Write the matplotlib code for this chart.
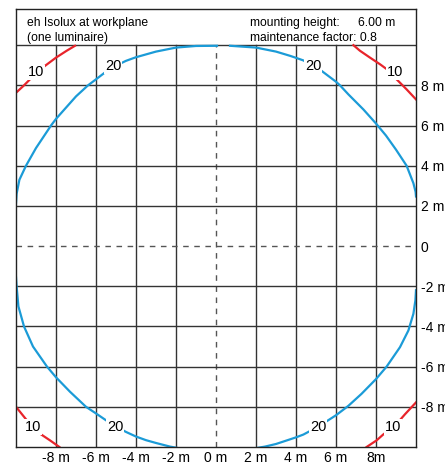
import numpy as np
import matplotlib
matplotlib.use('Agg')
import matplotlib.pyplot as plt

plt.rcParams['font.family'] = ['Liberation Sans', 'DejaVu Sans']

# 20 lux isoline (metres)
upper20_left_x = [-10.0, -9.97, -9.83, -9.5, -9.0, -8.25, -8.0, -7.0, -6.4, -6.0, -5.5, -5.0,
                  -4.5, -4.0, -3.0, -2.0, -1.0, 0.05]
upper20_left_y = [2.13, 2.6, 3.3, 4.0, 4.88, 6.0, 6.33, 7.45, 8.0, 8.3, 8.68, 8.98,
                  9.22, 9.4, 9.68, 9.88, 9.96, 9.97]
upper20_right_x = [0.7, 2.0, 3.0, 3.7, 4.0, 4.37, 5.28, 6.0, 6.2, 6.62, 7.37, 8.0, 8.5, 9.0,
                   9.53, 9.87, 9.98, 10.0]
upper20_right_y = [9.97, 9.88, 9.68, 9.47, 9.37, 9.24, 8.72, 8.18, 8.0, 7.55, 6.8, 6.1, 5.5, 4.8,
                   4.0, 3.13, 2.7, 2.47]
lower20_x = [-10.0, -9.97, -9.88, -9.6, -9.15, -8.45, -8.0, -7.3, -6.5, -6.0, -5.5, -5.0, -4.5,
             -4.0, -3.5, -3.0, -2.3, 0.0, 2.45, 3.0, 3.7, 4.0, 4.37, 5.03, 5.53, 6.0, 6.62, 7.28,
             8.0, 8.53, 9.2, 9.62, 9.87, 9.97, 10.0]
lower20_y = [-1.55, -2.0, -3.0, -4.0, -5.0, -6.0, -6.53, -7.25, -8.0, -8.33, -8.67, -8.98, -9.25,
             -9.48, -9.66, -9.8, -9.98, -10.4, -9.98, -9.85, -9.62, -9.52, -9.38, -9.03, -8.72,
             -8.42, -7.95, -7.35, -6.62, -6.0, -5.03, -4.2, -3.37, -2.7, -2.2]

# 10 lux isolines in the corners
tl10_x = [-10.0, -9.63, -9.3, -8.97, -8.55, -8.0, -7.47, -7.05]
tl10_y = [7.63, 7.97, 8.3, 8.63, 8.97, 9.38, 9.72, 9.97]
tr10_x = [6.87, 7.2, 7.7, 8.2, 8.78, 9.03, 9.53, 10.0]
tr10_y = [10.0, 9.72, 9.38, 9.05, 8.63, 8.3, 7.8, 7.3]
bl10_x = [-10.0, -9.5, -9.17, -8.75, -8.3, -7.83]
bl10_y = [-8.0, -8.62, -9.03, -9.37, -9.67, -10.0]
br10_x = [7.53, 8.03, 8.37, 8.9, 9.45, 10.0]
br10_y = [-10.0, -9.67, -9.37, -9.0, -8.37, -7.78]

# contour labels
label_text = ['10', '20', '20', '10', '10', '20', '20', '10']
label_x = [-9.0, -5.15, 4.85, 8.95, -9.15, -5.05, 5.1, 8.85]
label_y = [8.65, 8.95, 8.95, 8.65, -9.0, -9.0, -9.0, -9.0]

xticks = [-8, -6, -4, -2, 0, 2, 4, 6, 8]
xtick_labels = ['-8 m', '-6 m', '-4 m', '-2 m', '0 m', '2 m', '4 m', '6 m', '8m']
yticks = [8, 6, 4, 2, 0, -2, -4, -6, -8]
ytick_labels = ['8 m', '6 m', '4 m', '2 m', '0', '-2 m', '-4 m', '-6 m', '-8 m']

blue = '#1b9bd7'
red = '#e8242b'
gridc = '#333333'

W, H = 445, 467
fig = plt.figure(figsize=(W / 100, H / 100), dpi=100)
ax = fig.add_axes([16 / W, 20 / H, 400 / W, 438 / H])
ax.set_xlim(-10, 10)
ax.set_ylim(-10, 11.8)

# grid
for v in xticks:
    if v == 0:
        ax.plot([0, 0], [-10, 10], color='#555555', lw=1.0, ls=(0, (4, 4)), zorder=1)
    else:
        ax.plot([v, v], [-10, 10], color=gridc, lw=1.0, zorder=1)
for h in yticks:
    if h == 0:
        ax.plot([-10, 10], [0, 0], color='#555555', lw=1.0, ls=(0, (4, 4)), zorder=1)
    else:
        ax.plot([-10, 10], [h, h], color=gridc, lw=1.0, zorder=1)
ax.plot([-10, 10], [10, 10], color=gridc, lw=1.0, zorder=1)

# isolines
ax.plot(upper20_left_x, upper20_left_y, color=blue, lw=1.6, zorder=2)
ax.plot(upper20_right_x, upper20_right_y, color=blue, lw=1.6, zorder=2)
ax.plot(lower20_x, lower20_y, color=blue, lw=1.6, zorder=2)
for xs, ys in [(tl10_x, tl10_y), (tr10_x, tr10_y), (bl10_x, bl10_y), (br10_x, br10_y)]:
    ax.plot(xs, ys, color=red, lw=1.6, zorder=2)

for t, x, y in zip(label_text, label_x, label_y):
    ax.text(x, y, t, fontsize=10.5, ha='center', va='center', zorder=3,
            bbox=dict(facecolor='white', edgecolor='none', pad=0.5))

# header
ax.text(-9.45, 11.1, 'eh Isolux at workplane', fontsize=8.7, va='center', ha='left')
ax.text(-9.45, 10.38, '(one luminaire)', fontsize=8.7, va='center', ha='left')
ax.text(1.7, 11.1, 'mounting height:', fontsize=8.7, va='center', ha='left')
ax.text(7.1, 11.1, '6.00 m', fontsize=8.7, va='center', ha='left')
ax.text(1.7, 10.38, 'maintenance factor: 0.8', fontsize=8.7, va='center', ha='left')

ax.set_xticks(xticks)
ax.set_xticklabels(xtick_labels, fontsize=10)
ax.yaxis.tick_right()
ax.set_yticks(yticks)
ax.set_yticklabels(ytick_labels, fontsize=10)
ax.tick_params(axis='both', length=0)
ax.tick_params(axis='x', pad=3)
ax.tick_params(axis='y', pad=3.5)
for s in ax.spines.values():
    s.set_color('#222222')
    s.set_linewidth(1.0)

fig.savefig('out.png', dpi=100)
